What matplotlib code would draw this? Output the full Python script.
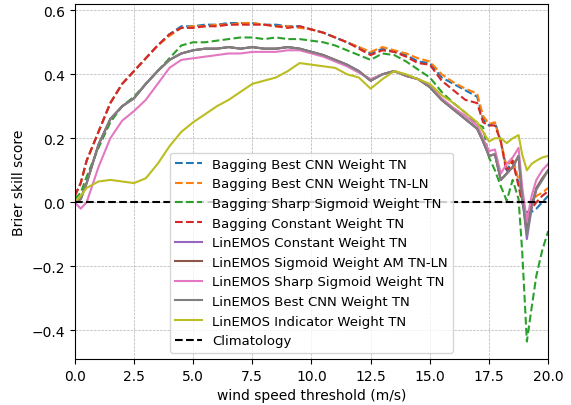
import matplotlib
matplotlib.use('Agg')
import matplotlib.pyplot as plt

# wind speed thresholds (m/s)
x = [0, 0.25, 0.5, 1, 1.5, 2, 2.5, 3, 3.5, 4, 4.5, 5, 5.5, 6, 6.5, 7, 7.5, 8, 8.5, 9,
     9.5, 10, 10.5, 11, 11.5, 12, 12.5, 13, 13.5, 14, 14.5, 15, 15.5, 16, 16.5, 17,
     17.25, 17.5, 17.75, 18, 18.25, 18.5, 18.75, 18.9, 19.1, 19.3, 19.5, 19.75, 20]

bag_cnn_tn = [0.02, 0.06, 0.13, 0.22, 0.31, 0.37, 0.41, 0.45, 0.49, 0.525, 0.55, 0.55, 0.555, 0.555, 0.56, 0.56,
              0.56, 0.555, 0.555, 0.55, 0.55, 0.54, 0.53, 0.515, 0.50, 0.485, 0.465, 0.48, 0.47, 0.46, 0.44,
              0.435, 0.39, 0.37, 0.35, 0.33, 0.26, 0.24, 0.25, 0.19, 0.10, 0.13, 0.06, 0.0, -0.03, -0.03,
              -0.02, 0.0, 0.02]
bag_cnn_tnln = [0.02, 0.06, 0.13, 0.22, 0.31, 0.37, 0.41, 0.45, 0.49, 0.52, 0.545, 0.55, 0.55, 0.555, 0.555, 0.56,
                0.56, 0.555, 0.55, 0.55, 0.545, 0.54, 0.53, 0.515, 0.50, 0.485, 0.47, 0.485, 0.475, 0.465, 0.45,
                0.44, 0.40, 0.375, 0.355, 0.34, 0.27, 0.245, 0.25, 0.19, 0.11, 0.14, 0.07, 0.01, -0.06, 0.0,
                0.02, 0.03, 0.045]
bag_sharp_tn = [0.01, 0.03, 0.08, 0.17, 0.25, 0.30, 0.33, 0.37, 0.41, 0.45, 0.49, 0.50, 0.50, 0.505, 0.51, 0.515,
                0.515, 0.51, 0.515, 0.51, 0.51, 0.505, 0.50, 0.49, 0.475, 0.46, 0.445, 0.465, 0.46, 0.44, 0.415,
                0.39, 0.345, 0.31, 0.28, 0.245, 0.235, 0.14, 0.10, 0.05, 0.005, 0.07, 0.01, -0.15, -0.435, -0.33,
                -0.23, -0.15, -0.09]
bag_const_tn = [0.02, 0.06, 0.13, 0.22, 0.31, 0.37, 0.41, 0.45, 0.49, 0.525, 0.545, 0.545, 0.55, 0.55, 0.555, 0.555,
                0.555, 0.555, 0.55, 0.545, 0.55, 0.54, 0.53, 0.515, 0.50, 0.48, 0.46, 0.475, 0.47, 0.455, 0.435,
                0.43, 0.38, 0.35, 0.32, 0.31, 0.25, 0.24, 0.24, 0.19, 0.09, 0.13, 0.05, 0.0, -0.05, -0.02,
                0.0, 0.02, 0.035]
lin_const_tn = [0.0, 0.01, 0.06, 0.18, 0.26, 0.30, 0.325, 0.37, 0.41, 0.445, 0.465, 0.475, 0.48, 0.48, 0.485, 0.48,
                0.485, 0.48, 0.48, 0.485, 0.48, 0.47, 0.46, 0.445, 0.43, 0.41, 0.38, 0.40, 0.41, 0.395, 0.385,
                0.36, 0.32, 0.29, 0.26, 0.23, 0.19, 0.145, 0.15, 0.07, 0.09, 0.11, 0.145, 0.02, -0.115, -0.02,
                0.04, 0.07, 0.10]
lin_sig_am = [0.0, 0.01, 0.06, 0.18, 0.26, 0.30, 0.325, 0.37, 0.41, 0.445, 0.465, 0.475, 0.48, 0.48, 0.485, 0.48,
              0.485, 0.48, 0.48, 0.485, 0.48, 0.47, 0.46, 0.445, 0.43, 0.41, 0.38, 0.40, 0.41, 0.395, 0.385,
              0.36, 0.32, 0.29, 0.26, 0.23, 0.19, 0.145, 0.15, 0.07, 0.09, 0.11, 0.145, 0.02, -0.09, -0.01,
              0.045, 0.075, 0.10]
lin_sharp_tn = [0.0, -0.02, 0.0, 0.11, 0.20, 0.255, 0.285, 0.32, 0.37, 0.42, 0.445, 0.45, 0.455, 0.46, 0.465, 0.465,
                0.47, 0.47, 0.47, 0.475, 0.475, 0.465, 0.455, 0.44, 0.425, 0.405, 0.385, 0.40, 0.41, 0.395, 0.385,
                0.365, 0.325, 0.295, 0.27, 0.24, 0.20, 0.16, 0.165, 0.09, 0.12, 0.14, 0.17, 0.05, -0.06, 0.02,
                0.07, 0.10, 0.12]
lin_cnn_tn = [0.0, 0.01, 0.06, 0.18, 0.26, 0.30, 0.325, 0.37, 0.41, 0.445, 0.465, 0.475, 0.48, 0.48, 0.485, 0.48,
              0.485, 0.48, 0.48, 0.485, 0.48, 0.47, 0.46, 0.445, 0.43, 0.41, 0.38, 0.40, 0.41, 0.395, 0.385,
              0.36, 0.32, 0.29, 0.26, 0.23, 0.19, 0.145, 0.15, 0.07, 0.09, 0.11, 0.145, 0.02, -0.10, -0.015,
              0.04, 0.07, 0.10]
lin_ind_tn = [0.0, 0.02, 0.045, 0.065, 0.07, 0.065, 0.06, 0.075, 0.12, 0.175, 0.22, 0.25, 0.275, 0.30, 0.32, 0.345,
              0.37, 0.38, 0.39, 0.41, 0.435, 0.43, 0.425, 0.42, 0.40, 0.39, 0.355, 0.385, 0.41, 0.40, 0.385,
              0.37, 0.335, 0.31, 0.28, 0.25, 0.22, 0.19, 0.20, 0.20, 0.185, 0.20, 0.21, 0.15, 0.10, 0.12,
              0.13, 0.14, 0.145]

fig = plt.figure(figsize=(5.71, 4.06), dpi=100)
ax = fig.add_subplot(111)
fig.subplots_adjust(left=0.131, right=0.96, top=0.988, bottom=0.113)

ax.plot(x, bag_cnn_tn, '--', color='tab:blue', label='Bagging Best CNN Weight TN')
ax.plot(x, bag_cnn_tnln, '--', color='tab:orange', label='Bagging Best CNN Weight TN-LN')
ax.plot(x, bag_sharp_tn, '--', color='tab:green', label='Bagging Sharp Sigmoid Weight TN')
ax.plot(x, bag_const_tn, '--', color='tab:red', label='Bagging Constant Weight TN')
ax.plot(x, lin_const_tn, color='tab:purple', label='LinEMOS Constant Weight TN')
ax.plot(x, lin_sig_am, color='tab:brown', label='LinEMOS Sigmoid Weight AM TN-LN')
ax.plot(x, lin_sharp_tn, color='tab:pink', label='LinEMOS Sharp Sigmoid Weight TN')
ax.plot(x, lin_cnn_tn, color='tab:gray', label='LinEMOS Best CNN Weight TN')
ax.plot(x, lin_ind_tn, color='tab:olive', label='LinEMOS Indicator Weight TN')
ax.plot([0, 20], [0, 0], '--', color='black', label='Climatology')

ax.set_xlim(0, 20)
ax.set_ylim(-0.49, 0.62)
ax.grid(True, linestyle='--', linewidth=0.5)
ax.set_xlabel('wind speed threshold (m/s)')
ax.set_ylabel('Brier skill score')
ax.legend(loc='lower center', fontsize=9.5)

plt.savefig('out.png', dpi=100)
